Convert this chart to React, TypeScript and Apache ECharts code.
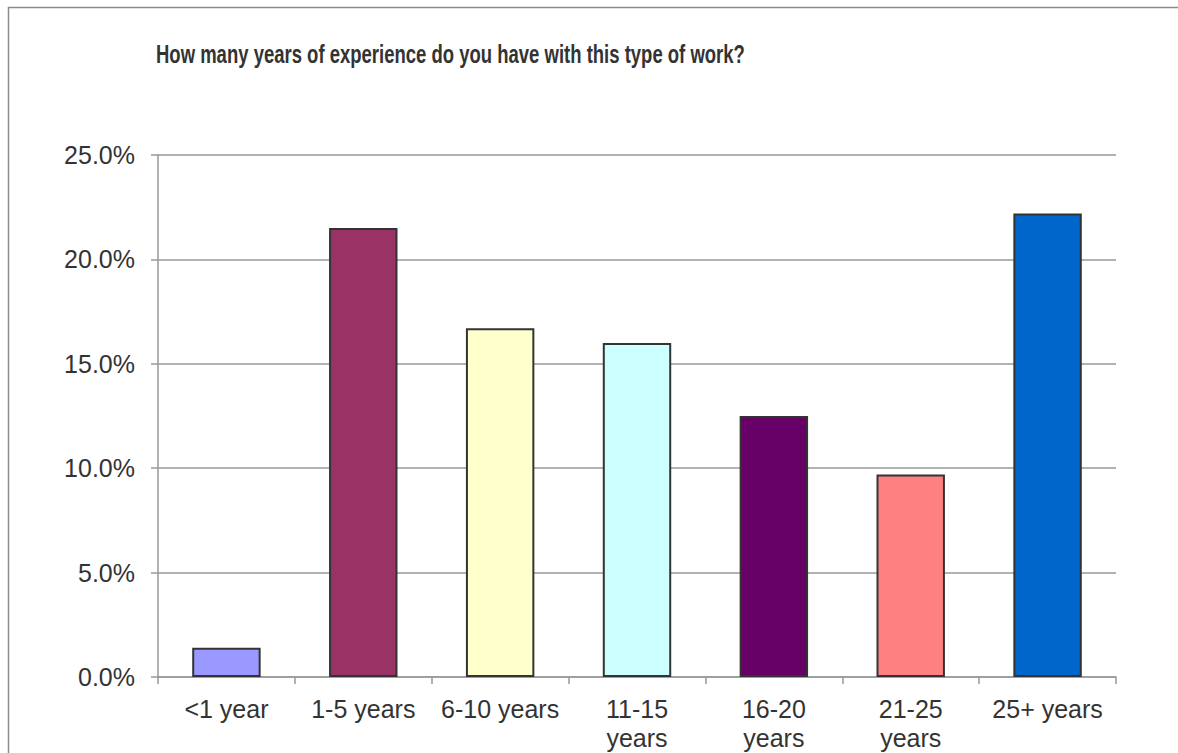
import React, { useEffect, useRef } from "react";
import * as echarts from "echarts";

const categories = ["<1 year", "1-5 years", "6-10 years", "11-15 years", "16-20 years", "21-25 years", "25+ years"];
const values = [1.4, 21.5, 16.7, 16.0, 12.5, 9.7, 22.2];
const barColors = ["#9999FF", "#993366", "#FFFFCC", "#CCFFFF", "#660066", "#FF8080", "#0066CC"];
const yTicks = [0, 5, 10, 15, 20, 25];
const title = "How many years of experience do you have with this type of work?";

export default function App() {
  const ref = useRef<HTMLDivElement>(null);
  useEffect(() => {
    if (!ref.current) return;
    const chart = echarts.init(ref.current, undefined, { renderer: "svg" });
    const font = "Arial, 'Liberation Sans', sans-serif";
    chart.setOption({
      animation: false,
      backgroundColor: "#ffffff",
      graphic: [
        {
          type: "rect",
          shape: { x: 8.5, y: 7.5, width: 1400, height: 1000 },
          style: { fill: "none", stroke: "#8c8c8c", lineWidth: 1.5 },
          silent: true,
        },
        {
          type: "text",
          x: 156,
          y: 54.5,
          scaleX: 0.74,
          style: {
            text: title,
            fontFamily: font,
            fontSize: 25,
            fontWeight: "bold",
            fill: "#333333",
            verticalAlign: "middle",
            align: "left",
          },
          silent: true,
        },
      ],
      grid: { left: 158, right: 62, top: 155, bottom: 76, containLabel: false },
      xAxis: {
        type: "category",
        data: categories,
        axisLine: { lineStyle: { color: "#999999", width: 1.5 } },
        axisTick: { show: true, length: 7, lineStyle: { color: "#999999", width: 1.5 } },
        axisLabel: {
          interval: 0,
          margin: 17,
          fontFamily: font,
          fontSize: 25,
          lineHeight: 29,
          color: "#333333",
          formatter: (v: string) => (v.length > 10 ? v.replace(" ", "\n") : v),
        },
      },
      yAxis: {
        type: "value",
        min: yTicks[0],
        max: yTicks[yTicks.length - 1],
        interval: 5,
        axisLine: { show: true, lineStyle: { color: "#999999", width: 1.5 } },
        axisTick: { show: true, length: 7, lineStyle: { color: "#999999", width: 1.5 } },
        splitLine: { show: true, lineStyle: { color: "#999999", width: 1.5 } },
        axisLabel: {
          margin: 23,
          fontFamily: font,
          fontSize: 25,
          color: "#333333",
          formatter: (v: number) => v.toFixed(1) + "%",
        },
      },
      series: [
        {
          type: "bar",
          barWidth: "50%",
          data: values.map((v, i) => ({
            value: v,
            itemStyle: { color: barColors[i], borderColor: "#333333", borderWidth: 2 },
          })),
        },
      ],
    });
    return () => chart.dispose();
  }, []);
  return (
    <div
      ref={ref}
      style={{ position: "fixed", left: 0, top: 0, width: 1178, height: 753 }}
    />
  );
}
